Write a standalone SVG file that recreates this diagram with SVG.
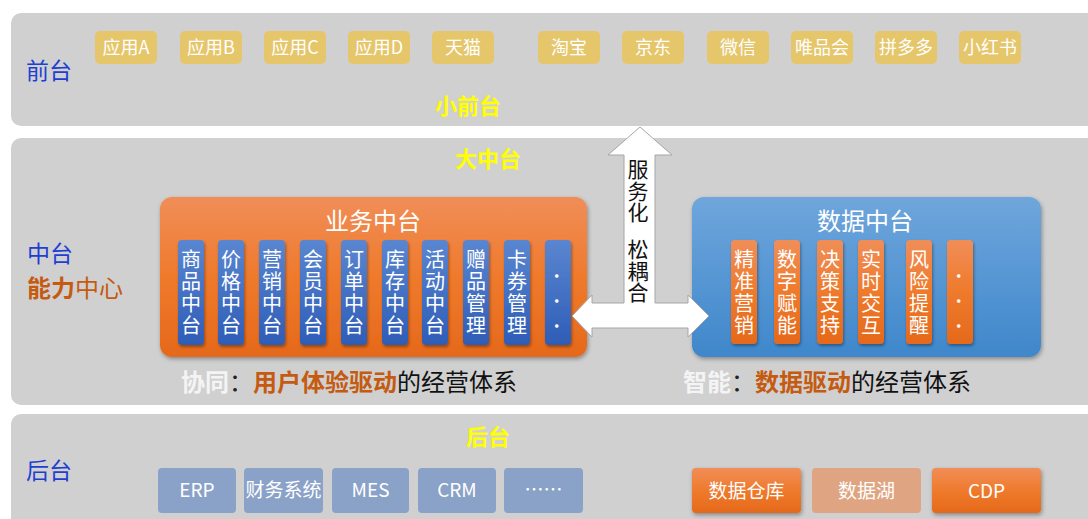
<svg xmlns="http://www.w3.org/2000/svg" width="1088" height="519" viewBox="0 0 1088 519">
<defs>
<linearGradient id="gOr" x1="0" y1="0" x2="0" y2="1"><stop offset="0" stop-color="#f08e58"/><stop offset="0.5" stop-color="#ef7a2c"/><stop offset="1" stop-color="#e5691b"/></linearGradient>
<linearGradient id="gBl" x1="0" y1="0" x2="0" y2="1"><stop offset="0" stop-color="#6fa6dc"/><stop offset="1" stop-color="#3f87cb"/></linearGradient>
<linearGradient id="gCol" x1="0" y1="0" x2="0" y2="1"><stop offset="0" stop-color="#5a86d0"/><stop offset="1" stop-color="#2e5db7"/></linearGradient>
<filter id="sh" x="-10%" y="-10%" width="130%" height="130%"><feDropShadow dx="1" dy="2" stdDeviation="2" flood-color="#000" flood-opacity="0.35"/></filter>
<filter id="sh2" x="-20%" y="-10%" width="150%" height="130%"><feDropShadow dx="1" dy="2" stdDeviation="1.5" flood-color="#000" flood-opacity="0.35"/></filter>
</defs>
<style>
text{font-family:"Noto Sans CJK SC","Microsoft YaHei",sans-serif}
.panel{fill:#d0d0d0}
.app{fill:#e6c66a}
.appt{fill:#fff;font-size:18px;text-anchor:middle}
.side{fill:#1d3fd4;font-size:23px}
.yel{fill:#ffff00;font-size:22px;font-weight:bold;text-anchor:middle}
.vt{fill:#fff;font-size:20px;writing-mode:vertical-rl;letter-spacing:2px}
.dots{fill:#fff;font-size:16px;writing-mode:vertical-rl;letter-spacing:9px}
.title{fill:#fff;font-size:24px;text-anchor:middle}
.back{fill:#8aa1c8}
.backt{fill:#fff;font-size:19px;text-anchor:middle}
.line{font-size:24px}
.at{fill:#111;font-size:21px;writing-mode:vertical-rl;letter-spacing:0.5px}
</style>
<rect width="1088" height="519" fill="#fff"/>
<g id="front-layer">
<rect class="panel" x="11" y="13" width="1100" height="113" rx="10"/>
<text class="side" x="26" y="79">前台</text>
<text class="yel" x="468" y="114">小前台</text>
</g>
<g id="apps">
<g id="app-a"><rect class="app" x="95" y="31" width="62" height="33" rx="5"/><text class="appt" x="126" y="54">应用A</text></g>
<g id="app-b"><rect class="app" x="180" y="31" width="62" height="33" rx="5"/><text class="appt" x="211" y="54">应用B</text></g>
<g id="app-c"><rect class="app" x="264" y="31" width="62" height="33" rx="5"/><text class="appt" x="295" y="54">应用C</text></g>
<g id="app-d"><rect class="app" x="348" y="31" width="62" height="33" rx="5"/><text class="appt" x="379" y="54">应用D</text></g>
<g id="app-tmall"><rect class="app" x="432" y="31" width="62" height="33" rx="5"/><text class="appt" x="463" y="54">天猫</text></g>
<g id="app-taobao"><rect class="app" x="538" y="31" width="62" height="33" rx="5"/><text class="appt" x="569" y="54">淘宝</text></g>
<g id="app-jd"><rect class="app" x="622" y="31" width="62" height="33" rx="5"/><text class="appt" x="653" y="54">京东</text></g>
<g id="app-wechat"><rect class="app" x="707" y="31" width="62" height="33" rx="5"/><text class="appt" x="738" y="54">微信</text></g>
<g id="app-vip"><rect class="app" x="791" y="31" width="62" height="33" rx="5"/><text class="appt" x="822" y="54">唯品会</text></g>
<g id="app-pdd"><rect class="app" x="875" y="31" width="62" height="33" rx="5"/><text class="appt" x="906" y="54">拼多多</text></g>
<g id="app-xhs"><rect class="app" x="959" y="31" width="62" height="33" rx="5"/><text class="appt" x="990" y="54">小红书</text></g>
</g>
<g id="middle-layer">
<rect class="panel" x="11" y="138" width="1100" height="267" rx="10"/>
<text class="yel" x="488" y="167">大中台</text>
<text class="side" x="27" y="262">中台</text>
<text x="27" y="297" font-size="24" fill="#c55a11"><tspan font-weight="bold">能力</tspan>中心</text>
<text class="line" x="181" y="391"><tspan fill="#f4f4f4" font-weight="bold">协同</tspan><tspan fill="#222">：</tspan><tspan fill="#c55a11" font-weight="bold">用户体验驱动</tspan><tspan fill="#111">的经营体系</tspan></text>
<text class="line" x="683" y="391"><tspan fill="#f4f4f4" font-weight="bold">智能</tspan><tspan fill="#222">：</tspan><tspan fill="#c55a11" font-weight="bold">数据驱动</tspan><tspan fill="#111">的经营体系</tspan></text>
</g>
<g id="biz-center">
<rect x="160" y="197" width="427" height="160" rx="12" fill="url(#gOr)" filter="url(#sh)"/>
<text class="title" x="373" y="230">业务中台</text>
<g filter="url(#sh2)" fill="url(#gCol)">
<rect x="178" y="240" width="26" height="105" rx="4"/>
<rect x="218" y="240" width="26" height="105" rx="4"/>
<rect x="259" y="240" width="26" height="105" rx="4"/>
<rect x="300" y="240" width="26" height="105" rx="4"/>
<rect x="341" y="240" width="26" height="105" rx="4"/>
<rect x="382" y="240" width="26" height="105" rx="4"/>
<rect x="422" y="240" width="26" height="105" rx="4"/>
<rect x="463" y="240" width="26" height="105" rx="4"/>
<rect x="504" y="240" width="26" height="105" rx="4"/>
<rect x="545" y="240" width="26" height="105" rx="4"/>
</g>
<text class="vt" x="191" y="249">商品中台</text>
<text class="vt" x="231" y="249">价格中台</text>
<text class="vt" x="272" y="249">营销中台</text>
<text class="vt" x="313" y="249">会员中台</text>
<text class="vt" x="354" y="249">订单中台</text>
<text class="vt" x="395" y="249">库存中台</text>
<text class="vt" x="435" y="249">活动中台</text>
<text class="vt" x="476" y="249">赠品管理</text>
<text class="vt" x="517" y="249">卡券管理</text>
<text class="dots" x="558" y="268">···</text>
</g>
<g id="data-center">
<rect x="692" y="197" width="349" height="160" rx="12" fill="url(#gBl)" filter="url(#sh)"/>
<text class="title" x="865" y="230">数据中台</text>
<g filter="url(#sh2)" fill="url(#gOr)">
<rect x="731" y="240" width="26" height="104" rx="4"/>
<rect x="774" y="240" width="26" height="104" rx="4"/>
<rect x="817" y="240" width="26" height="104" rx="4"/>
<rect x="858" y="240" width="26" height="104" rx="4"/>
<rect x="906" y="240" width="26" height="104" rx="4"/>
<rect x="947" y="240" width="26" height="104" rx="4"/>
</g>
<text class="vt" x="744" y="249">精准营销</text>
<text class="vt" x="787" y="249">数字赋能</text>
<text class="vt" x="830" y="249">决策支持</text>
<text class="vt" x="871" y="249">实时交互</text>
<text class="vt" x="919" y="249">风险提醒</text>
<text class="dots" x="960" y="268">···</text>
</g>
<g id="connectors">
<polygon points="640,127 672,155 655,155 655,303 688,303 688,295 709,316 688,337 688,328 592,328 592,337 572,316 592,295 592,303 624,303 624,155 608,155" fill="#fff" stroke="#a6a6a6" stroke-width="1"/>
<text class="at" x="638" y="159">服务化</text>
<text class="at" x="638" y="239">松耦合</text>
</g>
<g id="back-layer">
<rect class="panel" x="11" y="414" width="1100" height="120" rx="10"/>
<text class="yel" x="488" y="445">后台</text>
<text class="side" x="26" y="479">后台</text>
</g>
<g id="back-systems">
<g id="erp"><rect class="back" x="158" y="468" width="78" height="45" rx="4"/><text class="backt" x="197" y="497">ERP</text></g>
<g id="finance"><rect class="back" x="244" y="468" width="79" height="45" rx="4"/><text class="backt" x="283.5" y="497">财务系统</text></g>
<g id="mes"><rect class="back" x="332" y="468" width="77" height="45" rx="4"/><text class="backt" x="370.5" y="497">MES</text></g>
<g id="crm"><rect class="back" x="418" y="468" width="78" height="45" rx="4"/><text class="backt" x="457" y="497">CRM</text></g>
<g id="more"><rect class="back" x="504" y="468" width="79" height="45" rx="4"/><text class="backt" x="543.5" y="497">……</text></g>
<g id="dw"><rect x="692" y="468" width="109" height="45" rx="4" fill="url(#gOr)" filter="url(#sh)"/><text class="backt" x="746.5" y="498">数据仓库</text></g>
<g id="lake"><rect x="812" y="468" width="109" height="45" rx="4" fill="#dfa582"/><text class="backt" x="866.5" y="498">数据湖</text></g>
<g id="cdp"><rect x="932" y="468" width="109" height="45" rx="4" fill="url(#gOr)" filter="url(#sh)"/><text class="backt" x="986.5" y="498">CDP</text></g>
</g>
</svg>
